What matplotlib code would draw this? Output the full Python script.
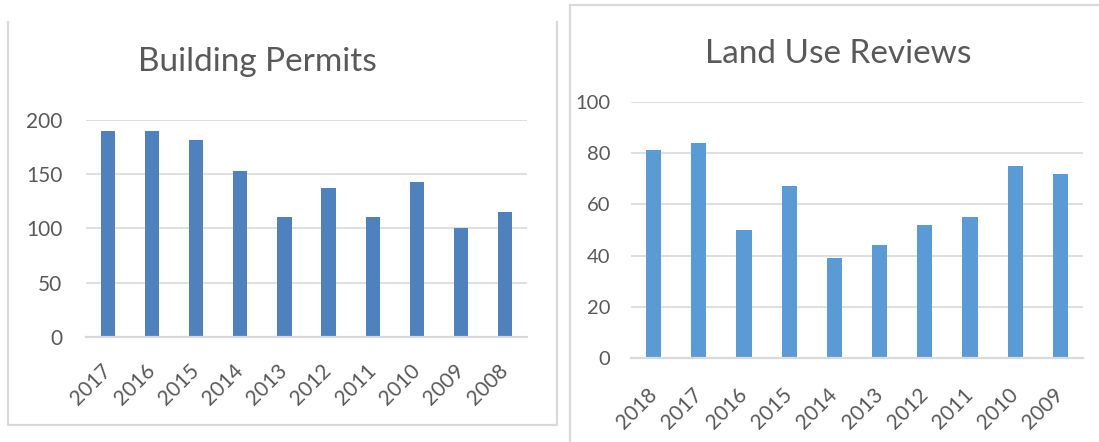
import numpy as np
import matplotlib
matplotlib.use("Agg")
import matplotlib.pyplot as plt
from matplotlib.lines import Line2D

# data
permit_years = ["2017", "2016", "2015", "2014", "2013", "2012", "2011", "2010", "2009", "2008"]
permit_counts = [190, 190, 182, 153, 111, 137, 111, 143, 100, 115]

review_years = ["2018", "2017", "2016", "2015", "2014", "2013", "2012", "2011", "2010", "2009"]
review_counts = [81, 84, 50, 67, 39, 44, 52, 55, 75, 72]

W, H = 1099, 442
GRID = "#D9D9D9"
TEXT = "#595959"
FONT = ["Lato", "DejaVu Sans"]

fig = plt.figure(figsize=(W / 100, H / 100), dpi=100)
fig.patch.set_facecolor("white")


def px_box(x0, x1, y_top, y_bot):
    # pixel box -> figure fraction [left, bottom, width, height]
    return [x0 / W, 1 - y_bot / H, (x1 - x0) / W, (y_bot - y_top) / H]


def frame_line(xs, ys):
    fig.add_artist(Line2D([x / W for x in xs], [1 - y / H for y in ys],
                          transform=fig.transFigure, color=GRID, lw=1.6))


def style_axes(ax, ymax, step, ysize, xsize, pad_y, pad_x):
    ax.set_xlim(-0.5, 9.5)
    ax.set_ylim(0, ymax)
    ax.set_yticks(np.arange(0, ymax + 1, step))
    ax.yaxis.grid(True, color=GRID, lw=1.2)
    ax.set_axisbelow(True)
    for s in ["top", "right", "left"]:
        ax.spines[s].set_visible(False)
    ax.spines["bottom"].set_color(GRID)
    ax.spines["bottom"].set_linewidth(1.6)
    ax.tick_params(axis="both", length=0, colors=TEXT)
    ax.tick_params(axis="y", pad=pad_y)
    ax.tick_params(axis="x", pad=pad_x)
    for lab in ax.get_yticklabels():
        lab.set_family(FONT)
        lab.set_fontsize(ysize)
    for lab in ax.get_xticklabels():
        lab.set_family(FONT)
        lab.set_fontsize(xsize)
        lab.set_rotation(45)
        lab.set_ha("right")
        lab.set_va("center")
        lab.set_rotation_mode("anchor")


# left chart: building permits
ax1 = fig.add_axes(px_box(86, 527, 120, 337))
x1 = np.arange(len(permit_years))
ax1.bar(x1, permit_counts, width=0.32, color="#4F81BD")
ax1.set_xticks(x1)
ax1.set_xticklabels(permit_years)
style_axes(ax1, 200, 50, 15, 15, 17, 22)
fig.text(257 / W, 1 - 71 / H, "Building Permits", ha="center", va="baseline",
         fontsize=24, color=TEXT, family=FONT)

# right chart: land use reviews
ax2 = fig.add_axes(px_box(631, 1083, 101.7, 358.3))
x2 = np.arange(len(review_years))
ax2.bar(x2, review_counts, width=0.34, color="#5B9BD5")
ax2.set_xticks(x2)
ax2.set_xticklabels(review_years)
style_axes(ax2, 100, 20, 14.5, 15, 15, 24)
fig.text(838 / W, 1 - 63 / H, "Land Use Reviews", ha="center", va="baseline",
         fontsize=24, color=TEXT, family=FONT)

# panel borders
frame_line([7.5, 7.5, 557, 557], [22, 425, 425, 22])
frame_line([570, 570, 1099], [442, 5, 5])

fig.savefig("out.png", dpi=100, facecolor="white")
